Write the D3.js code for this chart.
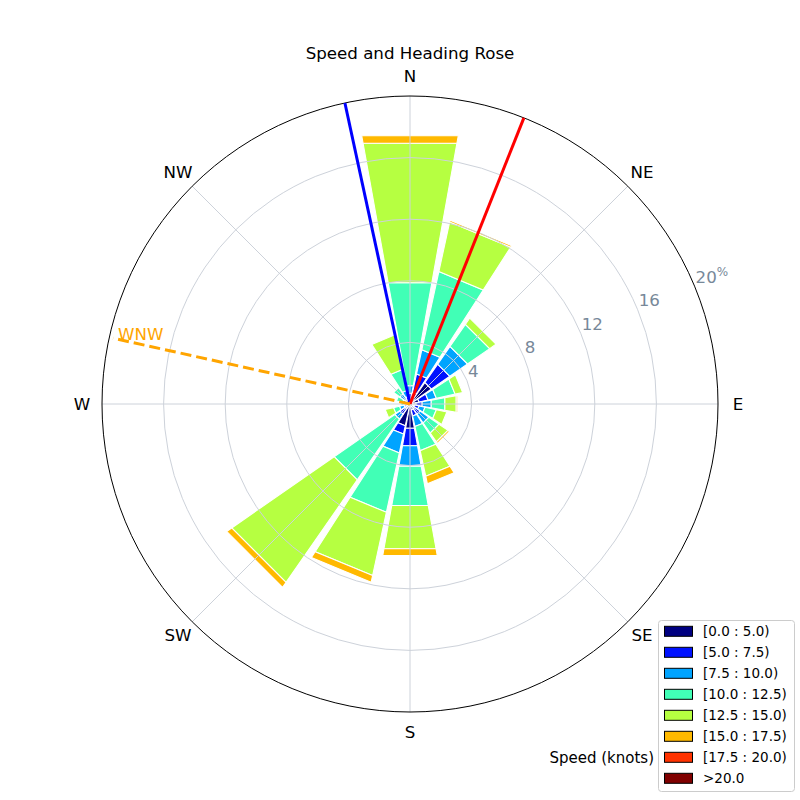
<!DOCTYPE html>
<html>
<head>
<meta charset="utf-8">
<script src="https://cdn.jsdelivr.net/npm/d3@7"></script>
<style>
  html, body { margin: 0; padding: 0; background: #fff; }
  svg { display: block; font-family: "DejaVu Sans", sans-serif; }
</style>
</head>
<body>
<svg id="chart" width="800" height="800"></svg>
<script>
// ---------------- data ----------------
const directions = ["N","NNE","NE","ENE","E","ESE","SE","SSE","S","SSW","SW","WSW","W","WNW","NW","NNW"];
const speedBins = ["[0.0 : 5.0)","[5.0 : 7.5)","[7.5 : 10.0)","[10.0 : 12.5)","[12.5 : 15.0)","[15.0 : 17.5)","[17.5 : 20.0)",">20.0"];
const binColors = ["#000080","#0012ff","#00a4ff","#41ffb6","#b6ff41","#ffb900","#ff3200","#800000"];
// frequency (%) per direction for each speed bin
const bin0 = [0.3, 0.8, 1.7, 0.6, 0.4, 0.3, 0.4, 0.4, 1.6, 1.45, 0.4, 0.2, 0.1, 0.1, 0.2, 0.2];
const bin1 = [0.4, 1.2, 1.45, 0.6, 0.4, 0.3, 0.4, 0.4, 1.15, 0.55, 0.4, 0.2, 0.1, 0.2, 0.2, 0.3];
const bin2 = [0.5, 1.6, 1.4, 0.55, 0.6, 0.4, 0.7, 0.7, 1.35, 1.25, 0.4, 0.3, 0.2, 0.2, 0.4, 0.4];
const bin3 = [6.8, 5.2, 1.75, 1.25, 0.9, 0.75, 0.8, 1.6, 2.6, 3.95, 4.8, 0.4, 0.2, 0.4, 0.5, 1.4];
const bin4 = [9.2, 3.3, 0.5, 0.5, 0.75, 0.7, 0.7, 1.7, 2.85, 4.2, 8.1, 0.55, 0, 0, 0, 2.3];
const bin5 = [0.5, 0.12, 0, 0, 0.1, 0, 0.12, 0.5, 0.45, 0.45, 0.4, 0, 0, 0, 0, 0];
const bin6 = [0, 0, 0, 0, 0, 0, 0, 0, 0, 0, 0, 0, 0, 0, 0, 0];
const bin7 = [0, 0, 0, 0, 0, 0, 0, 0, 0, 0, 0, 0, 0, 0, 0, 0];
const binValues = [bin0, bin1, bin2, bin3, bin4, bin5, bin6, bin7];

const radialTicks = [4, 8, 12, 16, 20];
const compassLabels = ["N","NE","E","SE","S","SW","W","NW"];
const compassAngles = [0, 45, 90, 135, 180, 225, 270, 315];

// heading lines
const lineHeadings = [347.8, 21.7, 282.5];
const lineLengths = [20, 20, 19.75];
const lineColors = ["#0000ff", "#ff0000", "#ffa500"];
const lineDashed = [false, false, true];
const lineLabels = ["", "", "WNW"];

// ---------------- layout ----------------
const cx = 410, cy = 404, R = 308;
const svg = d3.select("#chart");
const r = d3.scaleLinear().domain([0, 20]).range([0, R]);
const angle = d3.scaleLinear().domain([0, directions.length]).range([0, 360]);
const halfWidth = 10.2;

function pt(headingDeg, rv) {
  const a = headingDeg * Math.PI / 180;
  return [cx + r(rv) * Math.sin(a), cy - r(rv) * Math.cos(a)];
}

// title
svg.append("text").attr("x", 410).attr("y", 59).attr("text-anchor", "middle")
  .attr("font-size", 16.67).attr("fill", "#000").text("Speed and Heading Rose");

// stacked bars
const barsG = svg.append("g");
directions.forEach((d, i) => {
  const h = angle(i);
  let cum = 0;
  binValues.forEach((vals, b) => {
    const v = vals[i];
    if (v <= 0) return;
    const r0 = cum, r1 = cum + v;
    cum = r1;
    const pts = [pt(h - halfWidth, r0), pt(h + halfWidth, r0), pt(h + halfWidth, r1), pt(h - halfWidth, r1)];
    barsG.append("path")
      .attr("d", "M" + pts.map(p => p.join(",")).join("L") + "Z")
      .attr("fill", binColors[b])
      .attr("stroke", "#ffffff")
      .attr("stroke-width", 1.1)
      .attr("stroke-linejoin", "miter");
  });
});

// grid
const gridG = svg.append("g");
radialTicks.slice(0, -1).forEach(t => {
  gridG.append("circle").attr("cx", cx).attr("cy", cy).attr("r", r(t))
    .attr("fill", "none").attr("stroke", "#cdd2da").attr("stroke-width", 1);
});
compassAngles.forEach(a => {
  const p = pt(a, 20);
  gridG.append("line").attr("x1", cx).attr("y1", cy).attr("x2", p[0]).attr("y2", p[1])
    .attr("stroke", "#cdd2da").attr("stroke-width", 1);
});
gridG.append("circle").attr("cx", cx).attr("cy", cy).attr("r", r(20))
  .attr("fill", "none").attr("stroke", "#000").attr("stroke-width", 1);

// compass labels
compassLabels.forEach((lab, i) => {
  const a = compassAngles[i] * Math.PI / 180;
  const rr = R + 20;
  svg.append("text")
    .attr("x", cx + rr * Math.sin(a)).attr("y", cy - rr * Math.cos(a))
    .attr("text-anchor", "middle").attr("dominant-baseline", "central")
    .attr("font-size", 16.67).attr("fill", "#000").text(lab);
});

// radial tick labels
radialTicks.forEach(t => {
  const p = pt(67.5, t);
  const tx = svg.append("text").attr("x", p[0] + 1).attr("y", p[1] - 3.5)
    .attr("font-size", 16.67).attr("fill", "#778899");
  tx.append("tspan").text(t);
  if (t === 20) {
    tx.append("tspan").attr("font-size", 12).attr("dy", -7).text("%");
  }
});

// heading lines
lineHeadings.forEach((h, i) => {
  const p = pt(h, lineLengths[i]);
  svg.append("line").attr("x1", cx).attr("y1", cy).attr("x2", p[0]).attr("y2", p[1])
    .attr("stroke", lineColors[i]).attr("stroke-width", 3)
    .attr("stroke-dasharray", lineDashed[i] ? "11,5" : null);
  if (lineLabels[i]) {
    svg.append("text").attr("x", p[0] + 5).attr("y", p[1] + 2)
      .attr("font-size", 16.67).attr("fill", lineColors[i]).text(lineLabels[i]);
  }
});

// legend
const lg = svg.append("g");
lg.append("rect").attr("x", 658.5).attr("y", 620.5).attr("width", 136).attr("height", 171)
  .attr("rx", 3).attr("fill", "#fff").attr("fill-opacity", 0.8)
  .attr("stroke", "#cccccc").attr("stroke-width", 1);
speedBins.forEach((lab, i) => {
  const yc = 631.3 + i * 21;
  lg.append("rect").attr("x", 664.5).attr("y", yc - 5).attr("width", 28).attr("height", 10)
    .attr("fill", binColors[i]).attr("stroke", "#000").attr("stroke-width", 1);
  lg.append("text").attr("x", 703).attr("y", yc + 4.8).attr("font-size", 13.5)
    .attr("fill", "#000").text(lab);
});
svg.append("text").attr("x", 654).attr("y", 762.5).attr("text-anchor", "end")
  .attr("font-size", 15).attr("fill", "#000").text("Speed (knots)");
</script>
</body>
</html>
